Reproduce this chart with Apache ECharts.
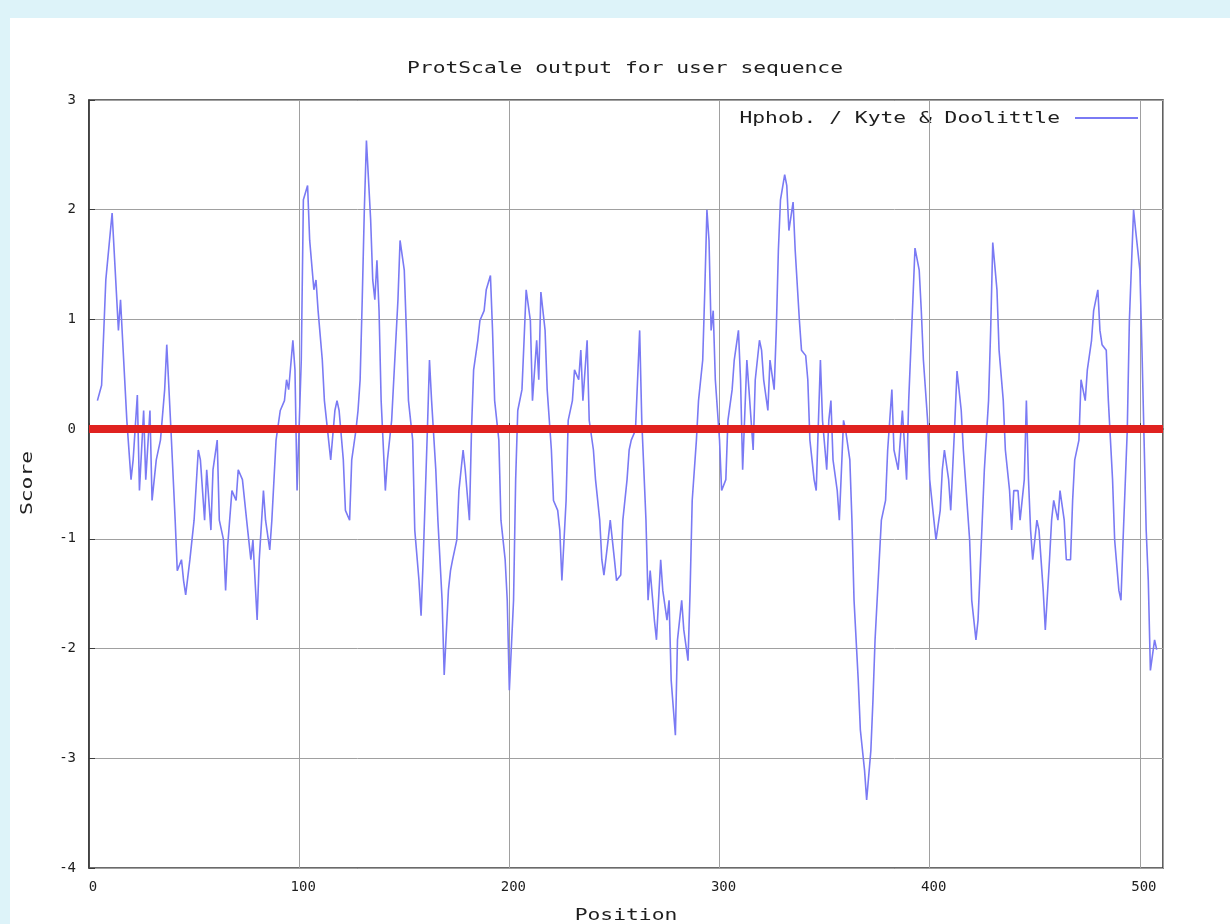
<!DOCTYPE html>
<html>
<head>
<meta charset="utf-8">
<script src="https://cdn.jsdelivr.net/npm/echarts@6/dist/echarts.min.js"></script>
<style>
html,body{margin:0;padding:0;background:#ddf3f9;}
#chart{width:1230px;height:924px;}
</style>
</head>
<body>
<div id="chart"></div>
<script>
// Hydrophobicity profile
const positions = [
  4,6,8,11,14,15,16,18,20,21,
  23,24,26,27,29,30,32,34,36,37,
  39,41,42,44,45,46,48,50,52,53,
  55,56,58,59,61,62,64,65,66,68,
  70,71,73,75,77,78,80,81,83,84,
  86,87,89,91,93,94,95,97,98,99,
  101,102,104,105,107,108,109,111,112,114,
  115,117,118,119,121,122,124,125,127,128,
  129,130,131,132,134,135,136,137,138,139,
  141,142,144,145,147,148,150,151,152,154,
  155,157,158,159,161,162,163,165,166,168,
  169,171,172,173,175,176,178,179,181,182,
  183,185,186,188,189,191,192,193,195,196,
  198,199,200,202,203,204,206,207,208,210,
  211,213,214,215,217,218,220,221,223,224,
  225,227,228,230,231,233,234,235,237,238,
  240,241,243,244,245,247,248,250,251,253,
  254,256,257,258,260,262,263,265,266,267,
  269,270,272,273,275,276,277,279,280,282,
  283,285,286,287,289,290,292,293,294,295,
  296,297,298,300,301,303,304,306,307,309,
  310,311,313,314,316,317,319,320,321,323,
  324,326,327,328,329,331,332,333,335,336,
  338,339,341,342,343,345,346,348,349,351,
  352,353,354,356,357,359,360,362,363,364,
  366,367,369,370,372,373,374,376,377,379,
  380,382,383,385,386,387,389,390,392,393,
  395,396,397,399,400,402,403,405,406,407,
  409,410,412,413,415,416,417,419,420,422,
  423,425,426,428,429,430,432,433,435,436,
  438,439,440,442,443,445,446,447,448,449,
  451,452,454,455,457,458,459,461,462,464,
  465,467,468,469,471,472,474,475,477,478,
  480,481,482,484,485,487,488,490,491,492,
  494,495,497,498,500,501,502,503,504,505,
  507,508
];
const scores = [
  0.26,0.40,1.36,1.97,0.90,1.18,0.81,0.08,-0.46,-0.28,
  0.31,-0.56,0.17,-0.46,0.17,-0.65,-0.28,-0.10,0.36,0.77,
  -0.01,-0.83,-1.29,-1.19,-1.38,-1.51,-1.19,-0.83,-0.19,-0.28,
  -0.83,-0.37,-0.92,-0.37,-0.10,-0.83,-1.01,-1.47,-1.06,-0.56,
  -0.65,-0.37,-0.46,-0.83,-1.19,-1.01,-1.74,-1.19,-0.56,-0.83,
  -1.10,-0.83,-0.10,0.17,0.26,0.45,0.36,0.81,0.54,-0.56,
  0.63,2.09,2.22,1.72,1.27,1.36,1.08,0.63,0.26,-0.10,
  -0.28,0.17,0.26,0.17,-0.28,-0.74,-0.83,-0.28,-0.01,0.17,
  0.45,1.18,2.00,2.63,1.91,1.36,1.18,1.54,1.08,0.26,
  -0.56,-0.28,0.08,0.45,1.18,1.72,1.45,0.90,0.26,-0.10,
  -0.92,-1.38,-1.70,-1.19,-0.01,0.63,0.26,-0.37,-0.83,-1.56,
  -2.24,-1.47,-1.29,-1.19,-1.01,-0.56,-0.19,-0.37,-0.83,0.00,
  0.54,0.81,0.99,1.08,1.27,1.40,0.90,0.26,-0.10,-0.83,
  -1.19,-1.56,-2.38,-1.56,-0.46,0.17,0.36,0.81,1.27,0.99,
  0.26,0.81,0.45,1.25,0.90,0.36,-0.19,-0.65,-0.74,-0.92,
  -1.38,-0.65,0.08,0.26,0.54,0.45,0.72,0.26,0.81,0.08,
  -0.19,-0.46,-0.83,-1.19,-1.33,-1.01,-0.83,-1.19,-1.38,-1.33,
  -0.83,-0.46,-0.19,-0.10,-0.01,0.90,0.08,-0.83,-1.56,-1.29,
  -1.74,-1.92,-1.19,-1.47,-1.74,-1.56,-2.29,-2.79,-1.92,-1.56,
  -1.83,-2.11,-1.47,-0.65,-0.10,0.26,0.63,1.27,2.00,1.72,
  0.90,1.08,0.45,-0.10,-0.56,-0.46,0.08,0.36,0.63,0.90,
  0.45,-0.37,0.63,0.36,-0.19,0.45,0.81,0.72,0.45,0.17,
  0.63,0.36,0.90,1.63,2.09,2.32,2.22,1.81,2.07,1.63,
  0.99,0.72,0.67,0.45,-0.10,-0.46,-0.56,0.63,0.08,-0.37,
  0.08,0.26,-0.28,-0.56,-0.83,0.08,-0.01,-0.28,-0.83,-1.56,
  -2.29,-2.74,-3.11,-3.38,-2.93,-2.47,-1.92,-1.19,-0.83,-0.65,
  -0.19,0.36,-0.19,-0.37,-0.10,0.17,-0.46,0.26,1.18,1.65,
  1.45,1.08,0.63,0.08,-0.46,-0.83,-1.01,-0.74,-0.37,-0.19,
  -0.46,-0.74,0.08,0.53,0.17,-0.19,-0.46,-1.01,-1.56,-1.92,
  -1.74,-0.83,-0.37,0.26,0.90,1.70,1.27,0.72,0.26,-0.19,
  -0.56,-0.92,-0.56,-0.56,-0.83,-0.46,0.26,-0.46,-0.92,-1.19,
  -0.83,-0.92,-1.47,-1.83,-1.19,-0.83,-0.65,-0.83,-0.56,-0.83,
  -1.19,-1.19,-0.65,-0.28,-0.10,0.45,0.26,0.54,0.81,1.08,
  1.27,0.90,0.77,0.72,0.26,-0.46,-1.01,-1.47,-1.56,-1.01,
  -0.01,0.99,2.00,1.81,1.45,0.72,-0.10,-0.92,-1.38,-2.20,
  -1.92,-2.01
];
const xTicks = [0, 100, 200, 300, 400, 500];
const yTicks = [-4, -3, -2, -1, 0, 1, 2, 3];
const titleText = 'ProtScale output for user sequence';
const seriesName = 'Hphob. / Kyte & Doolittle';
const xName = 'Position';
const yName = 'Score';

const data = positions.map((p, i) => [p, scores[i]]);
const FONT = 'DejaVu Sans Mono';
const TXT = '#1e1e1e';
const LINE = '#7a7af4';
const SX = 1.42;

const chart = echarts.init(document.getElementById('chart'), null, {renderer: 'canvas'});
chart.setOption({
  backgroundColor: 'transparent',
  animation: false,
  graphic: [
    {type: 'rect', z: -10, silent: true,
     shape: {x: 10, y: 18, width: 1220, height: 906},
     style: {fill: '#ffffff'}},
    {type: 'text', x: 625, y: 69, scaleX: SX, silent: true,
     style: {text: titleText, fill: TXT, font: '15px "DejaVu Sans Mono"', align: 'center', verticalAlign: 'middle'}},
    {type: 'text', x: 1060, y: 119, scaleX: SX, silent: true,
     style: {text: seriesName, fill: TXT, font: '15px "DejaVu Sans Mono"', align: 'right', verticalAlign: 'middle'}},
    {type: 'line', silent: true, z: 10,
     shape: {x1: 1075, y1: 118, x2: 1138, y2: 118},
     style: {stroke: LINE, lineWidth: 2}},
    {type: 'text', x: 626, y: 916, scaleX: SX, silent: true,
     style: {text: xName, fill: TXT, font: '15px "DejaVu Sans Mono"', align: 'center', verticalAlign: 'middle'}},
    {type: 'text', x: 28, y: 483, scaleX: SX, rotation: Math.PI / 2, silent: true,
     style: {text: yName, fill: TXT, font: '15px "DejaVu Sans Mono"', align: 'center', verticalAlign: 'middle'}}
  ],
  grid: {
    left: 89, right: 67, top: 100, bottom: 56,
    outerBoundsMode: 'none',
    containLabel: false,
    show: true, borderColor: '#3a3a3a', borderWidth: 1.6, backgroundColor: 'transparent'
  },
  xAxis: {
    type: 'value',
    min: 0, max: 511, interval: 100,
    axisLine: {show: true, lineStyle: {color: '#3a3a3a', width: 1.6}},
    axisTick: {show: true, inside: true, length: 6, lineStyle: {color: '#3a3a3a'}},
    axisLabel: {
      fontFamily: FONT, fontSize: 14, color: TXT, margin: 12,
      padding: [0, 0, 0, 8],
      showMaxLabel: false,
      formatter: v => xTicks.includes(v) ? String(v) : ''
    },
    splitLine: {show: true, lineStyle: {color: '#a0a0a0', width: 1}}
  },
  yAxis: {
    type: 'value',
    min: -4, max: 3, interval: 1,
    axisLine: {show: true, lineStyle: {color: '#3a3a3a', width: 1.6}},
    axisTick: {show: true, inside: true, length: 6, lineStyle: {color: '#3a3a3a'}},
    axisLabel: {
      fontFamily: FONT, fontSize: 14, color: TXT, margin: 13,
      formatter: v => yTicks.includes(v) ? String(v) : ''
    },
    splitLine: {show: true, lineStyle: {color: '#a0a0a0', width: 1}}
  },
  series: [{
    name: seriesName,
    type: 'line',
    data: data,
    showSymbol: false,
    symbol: 'none',
    color: LINE,
    lineStyle: {color: LINE, width: 1.6},
    markLine: {
      silent: true,
      symbol: ['none', 'none'],
      label: {show: false},
      lineStyle: {color: '#e02220', width: 8, type: 'solid'},
      data: [{yAxis: 0}]
    }
  }]
});
</script>
</body>
</html>
